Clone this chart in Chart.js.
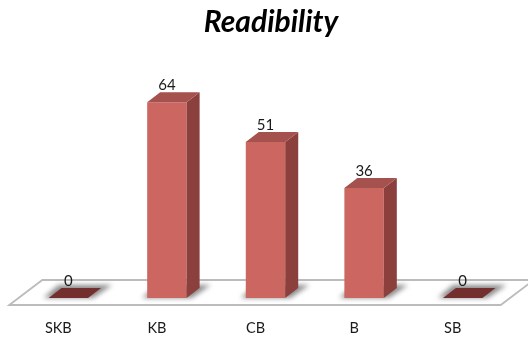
<!DOCTYPE html>
<html>
<head>
<meta charset="utf-8">
<style>
    html, body { margin: 0; padding: 0; background: #fff; }
    canvas { display: block; }
</style>
<script src="https://cdn.jsdelivr.net/npm/chart.js@4/dist/chart.umd.js"></script>
</head>
<body>
<canvas id="barChart" width="528" height="337"></canvas>
<script>
const categories = ['SKB', 'KB', 'CB', 'B', 'SB'];
const readability = [0, 64, 51, 36, 0];

const depthX = 13;
const depthY = 10;

const polygon = (ctx, points, color) => {
    ctx.fillStyle = color;
    ctx.beginPath();
    points.forEach(([x, y], i) => (i ? ctx.lineTo(x, y) : ctx.moveTo(x, y)));
    ctx.closePath();
    ctx.fill();
};

// Floor plate and the soft shadows, under the bars
const floorPlugin = {
    id: 'floor',
    afterLayout(chart) {
        // title sits a little right of the canvas centre
        chart.titleBlock.left += 11;
    },
    beforeDatasetsDraw(chart) {
        const { ctx, scales } = chart;
        const base = scales.y.getPixelForValue(0);
        const left = scales.x.getPixelForValue(0) - 59;
        const right = scales.x.getPixelForValue(4) + 38;

        ctx.save();
        ctx.strokeStyle = '#bcbcbc';
        ctx.lineWidth = 1.8;
        ctx.beginPath();
        ctx.moveTo(left, base + 7);
        ctx.lineTo(left + 33, base - 18);
        ctx.lineTo(right + 33, base - 18);
        ctx.lineTo(right, base + 7);
        ctx.closePath();
        ctx.fillStyle = '#ffffff';
        ctx.fill();
        ctx.stroke();

        chart.getDatasetMeta(0).data.forEach((bar) => {
            const half = bar.width / 2;
            ctx.filter = 'blur(2.5px)';
            polygon(ctx, [
                [bar.x - half - 5, base],
                [bar.x + half + 5, base],
                [bar.x + half + 24, base - 13],
                [bar.x - half + 10, base - 13],
            ], '#8a8a8a');
            ctx.filter = 'none';
        });
        ctx.restore();
    },
    // Side and top faces plus the value labels
    afterDatasetsDraw(chart) {
        const { ctx, scales } = chart;
        const base = scales.y.getPixelForValue(0);

        ctx.save();
        chart.getDatasetMeta(0).data.forEach((bar, i) => {
            const half = bar.width / 2;
            const l = bar.x - half;
            const r = bar.x + half;
            if (readability[i] > 0) {
                polygon(ctx, [[r, bar.y], [r + depthX, bar.y - depthY], [r + depthX, base - depthY], [r, base]], '#8c403d');
            }
            polygon(ctx, [[l, bar.y], [r, bar.y], [r + depthX, bar.y - depthY], [l + depthX, bar.y - depthY]],
                readability[i] > 0 ? '#a5514d' : '#722f2d');

            ctx.fillStyle = '#1a1a1a';
            ctx.font = '15px Lato';
            ctx.textAlign = 'center';
            ctx.textBaseline = 'alphabetic';
            ctx.fillText(String(readability[i]), bar.x, bar.y - depthY - 2);
        });
        ctx.restore();
    },
};

new Chart(document.getElementById('barChart').getContext('2d'), {
    type: 'bar',
    data: {
        labels: categories,
        datasets: [{
            label: 'Readability',
            data: readability,
            backgroundColor: '#cc6660',
            barPercentage: 0.4,
            categoryPercentage: 1,
        }],
    },
    options: {
        responsive: false,
        animation: false,
        layout: { padding: { left: 19, right: 16, top: 4, bottom: 0 } },
        plugins: {
            legend: { display: false },
            tooltip: { enabled: false },
            title: {
                display: true,
                text: 'Readibility',
                color: '#000000',
                font: { family: 'Lato', size: 30, weight: 'bold', style: 'italic' },
                padding: { top: 0, bottom: 44 },
            },
        },
        scales: {
            x: {
                grid: { display: false },
                border: { display: false },
                // fixed strip under the floor for the category labels
                afterFit(scale) {
                    scale.height = 39;
                },
                ticks: {
                    color: '#1a1a1a',
                    font: { family: 'Lato', size: 14.5 },
                    padding: 14,
                    labelOffset: -10,
                    maxRotation: 0,
                },
            },
            y: {
                display: false,
                min: 0,
                max: 70,
            },
        },
    },
    plugins: [floorPlugin],
});
</script>
</body>
</html>
